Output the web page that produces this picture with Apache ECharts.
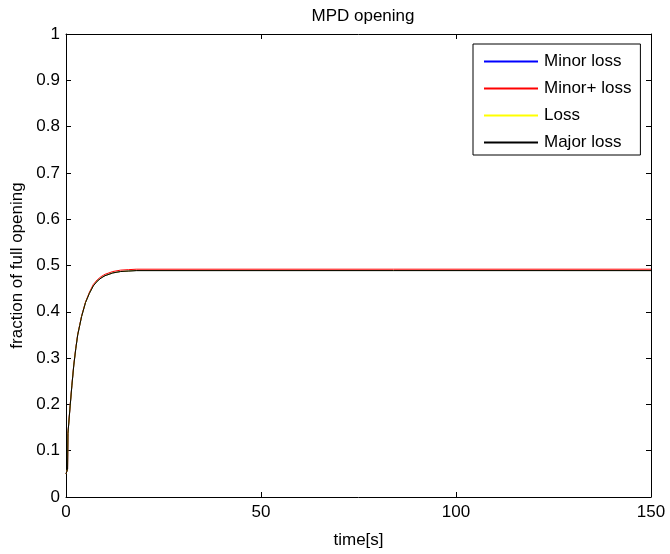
<!DOCTYPE html>
<html>
<head>
<meta charset="utf-8">
<script src="https://cdn.jsdelivr.net/npm/echarts@6/dist/echarts.min.js"></script>
<style>html,body{margin:0;padding:0;background:#fff;}#c{width:670px;height:554px;}</style>
</head>
<body>
<div id="c"></div>
<script>
var time = [0, 0.4, 0.5, 1, 1.5, 2, 2.5, 3, 3.5, 4, 5, 6, 7, 8, 9, 10, 12, 14, 16, 18, 150];
var minorLoss = [0.05, 0.06, 0.137, 0.19, 0.24, 0.285, 0.32, 0.35, 0.37, 0.39, 0.42, 0.44, 0.456, 0.466, 0.473, 0.478, 0.484, 0.487, 0.488, 0.489, 0.489];
var minorPlusLoss = [0.05, 0.06, 0.138, 0.191, 0.241, 0.286, 0.321, 0.351, 0.371, 0.391, 0.421, 0.442, 0.459, 0.469, 0.476, 0.481, 0.487, 0.49, 0.491, 0.492, 0.492];
var loss = [0.05, 0.06, 0.137, 0.19, 0.24, 0.285, 0.32, 0.35, 0.37, 0.39, 0.42, 0.44, 0.456, 0.466, 0.473, 0.478, 0.484, 0.487, 0.488, 0.489, 0.489];
var majorLoss = [0.05, 0.06, 0.137, 0.19, 0.24, 0.285, 0.32, 0.35, 0.37, 0.39, 0.42, 0.44, 0.456, 0.466, 0.473, 0.478, 0.484, 0.487, 0.488, 0.489, 0.489];
var seriesNames = ['Minor loss', 'Minor+ loss', 'Loss', 'Major loss'];
var seriesColors = ['#0000ff', '#ff0000', '#ffff00', '#000000'];
var seriesValues = [minorLoss, minorPlusLoss, loss, majorLoss];

function pairs(v) { return time.map(function (t, i) { return [t, v[i]]; }); }

var font = 'Liberation Sans, Arial, sans-serif';
var FS = 17;
var chart = echarts.init(document.getElementById('c'));
var axisCommon = {
  axisLine: { show: true, onZero: false, lineStyle: { color: '#000', width: 1 } },
  axisTick: { show: true, inside: true, length: 5, lineStyle: { color: '#000' } },
  splitLine: { show: false }
};
chart.setOption({
  animation: false,
  backgroundColor: '#fff',
  title: {
    text: 'MPD opening', left: 358, top: 3, textAlign: 'center',
    textStyle: { fontFamily: font, fontSize: FS, fontWeight: 'normal', color: '#000' }
  },
  grid: { left: 66, right: 19, top: 34, bottom: 56 },
  legend: {
    orient: 'vertical', left: 473, top: 44,
    data: seriesNames,
    icon: 'rect',
    itemWidth: 54, itemHeight: 2, itemGap: 10,
    padding: [9, 9, 4, 11],
    borderColor: '#000', borderWidth: 1, borderRadius: 0,
    backgroundColor: '#fff',
    textStyle: { fontFamily: font, fontSize: FS, color: '#000', lineHeight: 16, padding: [0, 0, 0, 1] }
  },
  xAxis: [
    Object.assign({}, axisCommon, {
      type: 'value', min: 0, max: 150, interval: 50, position: 'bottom',
      name: 'time[s]', nameLocation: 'middle', nameGap: 35,
      nameTextStyle: { fontFamily: font, fontSize: FS, color: '#000' },
      axisLabel: { fontFamily: font, fontSize: FS, color: '#000', margin: 7 }
    }),
    Object.assign({}, axisCommon, {
      type: 'value', min: 0, max: 150, interval: 50, position: 'top',
      axisLabel: { show: false }
    })
  ],
  yAxis: [
    Object.assign({}, axisCommon, {
      type: 'value', min: 0, max: 1, interval: 0.1, position: 'left',
      name: 'fraction of full opening', nameLocation: 'middle', nameGap: 39,
      nameTextStyle: { fontFamily: font, fontSize: FS, color: '#000' },
      axisLabel: { fontFamily: font, fontSize: FS, color: '#000', margin: 6,
        formatter: function (v) { return String(Math.round(v * 10) / 10); } }
    }),
    Object.assign({}, axisCommon, {
      type: 'value', min: 0, max: 1, interval: 0.1, position: 'right',
      axisLabel: { show: false }
    })
  ],
  series: seriesNames.map(function (n, i) {
    return {
      name: n, type: 'line', data: pairs(seriesValues[i]),
      showSymbol: false, symbol: 'none', smooth: false,
      lineStyle: { color: seriesColors[i], width: 1 },
      itemStyle: { color: seriesColors[i] },
      z: 2 + i
    };
  })
});
</script>
</body>
</html>
